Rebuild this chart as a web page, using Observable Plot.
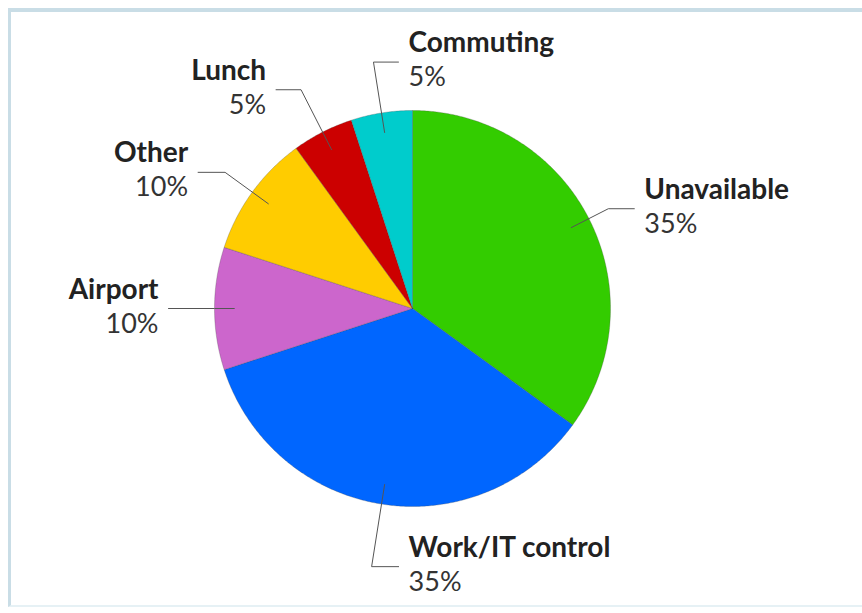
<!DOCTYPE html>
<html>
<head>
<meta charset="utf-8">
<script src="https://cdn.jsdelivr.net/npm/d3@7"></script>
<script src="https://cdn.jsdelivr.net/npm/@observablehq/plot@0.6"></script>
<style>
  html, body { margin: 0; padding: 0; background: #fff; }
  #wrap { position: relative; width: 862px; height: 613px; overflow: hidden; }
  #frame { position: absolute; left: 8px; top: 8px; right: -10px; bottom: 6px;
           border-top: 4px solid #c9dde6; border-left: 3px solid #c9dde6;
           border-bottom: 2px solid #e6f1f5; }
  #chart { position: absolute; left: 0; top: 0; }
</style>
</head>
<body>
<div id="wrap"><div id="frame"></div><div id="chart"></div></div>
<script>
// ---- data ----
const categories = ["Unavailable", "Work/IT control", "Airport", "Other", "Lunch", "Commuting"];
const shares = [35, 35, 10, 10, 5, 5];
const percentLabels = ["35%", "35%", "10%", "10%", "5%", "5%"];
const colors = ["#33cc00", "#0066ff", "#cc66cc", "#ffcc00", "#cc0000", "#00cccc"];

// ---- layout (label leader geometry, in pie radii / pixels) ----
const elbowRadius = [1.11, 1.32, 1.0, 1.17, 1.24, 1.26];
const tailLength = [26, 27, 46, 27, 25, 25];
const tailSide = [1, 1, -1, -1, -1, 1];

const W = 862, H = 613, CX = 412, CY = 308, R = 198;

const pie = d3.pie().sort(null).value(d => d)(shares);

// slice polygons (unit circle, y up)
const slicePts = [];
pie.forEach((p, i) => {
  const n = Math.max(2, Math.ceil((p.endAngle - p.startAngle) / (Math.PI / 360)));
  slicePts.push({cat: categories[i], x: 0, y: 0});
  for (let k = 0; k <= n; k++) {
    const a = p.startAngle + (p.endAngle - p.startAngle) * k / n;
    slicePts.push({cat: categories[i], x: Math.sin(a), y: Math.cos(a)});
  }
  slicePts.push({cat: categories[i], x: 0, y: 0});
});

// leader lines and label anchors
const leaderPts = [];
const labels = [];
pie.forEach((p, i) => {
  const a = (p.startAngle + p.endAngle) / 2;
  const x0 = 0.9 * Math.sin(a), y0 = 0.9 * Math.cos(a);
  const x1 = elbowRadius[i] * Math.sin(a), y1 = elbowRadius[i] * Math.cos(a);
  const x2 = x1 + tailSide[i] * tailLength[i] / R;
  leaderPts.push({cat: categories[i], x: x0, y: y0});
  leaderPts.push({cat: categories[i], x: x1, y: y1});
  leaderPts.push({cat: categories[i], x: x2, y: y1});
  labels.push({cat: categories[i], pct: percentLabels[i], x: x2 + tailSide[i] * 10 / R, y: y1,
               anchor: tailSide[i] > 0 ? "start" : "end"});
});

const font = "Lato, 'Open Sans', sans-serif";

const chart = Plot.plot({
  width: W, height: H,
  margin: 0,
  x: {domain: [-CX / R, (W - CX) / R], range: [0, W], axis: null},
  y: {domain: [(CY - H) / R, CY / R], range: [H, 0], axis: null},
  color: {domain: categories, range: colors},
  style: {background: "transparent", fontFamily: font},
  marks: [
    Plot.line(slicePts, {x: "x", y: "y", z: "cat", fill: "cat", stroke: "#444",
      strokeWidth: 0.6, strokeOpacity: 0.45, curve: "linear"}),
    Plot.line(leaderPts, {x: "x", y: "y", z: "cat", stroke: "#555", strokeWidth: 1}),
    Plot.text(labels.filter(d => d.anchor === "start"), {x: "x", y: "y", text: "cat", textAnchor: "start",
      lineAnchor: "bottom", dy: -10, fontSize: 28, fontWeight: 700, fill: "#222"}),
    Plot.text(labels.filter(d => d.anchor === "end"), {x: "x", y: "y", text: "cat", textAnchor: "end",
      lineAnchor: "bottom", dy: -10, fontSize: 28, fontWeight: 700, fill: "#222"}),
    Plot.text(labels.filter(d => d.anchor === "start"), {x: "x", y: "y", text: "pct", textAnchor: "start",
      lineAnchor: "bottom", dy: 24, fontSize: 27, fontWeight: 400, fill: "#333"}),
    Plot.text(labels.filter(d => d.anchor === "end"), {x: "x", y: "y", text: "pct", textAnchor: "end",
      lineAnchor: "bottom", dy: 24, fontSize: 27, fontWeight: 400, fill: "#333"})
  ]
});
document.getElementById("chart").appendChild(chart);
</script>
</body>
</html>
